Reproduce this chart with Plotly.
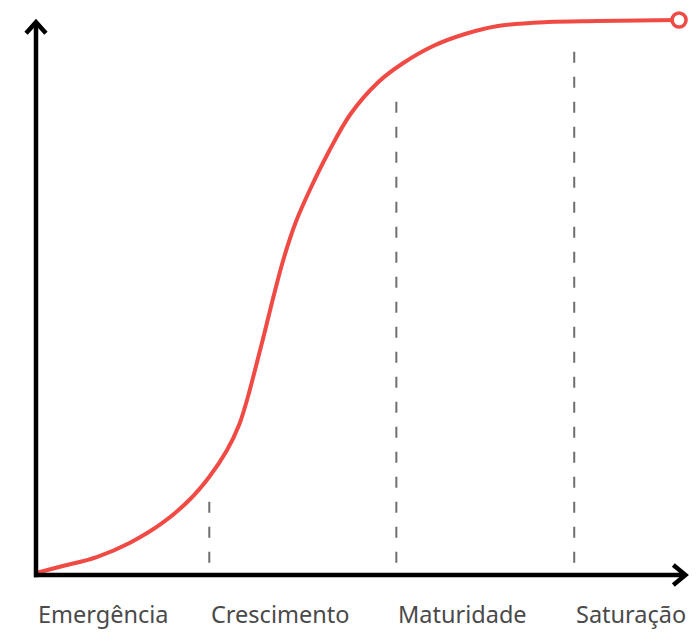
import plotly.graph_objects as go

# S-curve (time in arbitrary units 0..10, adoption 0..100)
curve_x = [0.0, 0.411, 0.928, 1.431, 1.933, 2.344, 2.648, 2.922, 3.105, 3.227, 3.349, 3.486, 3.638,
           3.790, 3.973, 4.201, 4.475, 4.810, 5.236, 5.616, 6.073, 6.560, 7.062, 7.823, 8.584, 9.833]
curve_y = [0.36, 1.62, 3.24, 5.77, 9.37, 13.51, 17.66, 22.52, 27.03, 31.53, 36.94, 43.24, 50.45,
           57.12, 63.60, 69.73, 76.22, 83.06, 88.83, 92.25, 95.32, 97.48, 98.92, 99.64, 99.82, 100.0]

phase_labels = ["Emergência", "Crescimento", "Maturidade", "Saturação"]
phase_starts = [0.0, 2.65, 5.51, 8.23]
divider_x = [2.65, 5.51, 8.23]
divider_top = [13.2, 87.4, 96.4]
divider_bottom = 2.2

X_MAX = 9.93
Y_MAX = 99.6

RED = "#F04A45"

fig = go.Figure()
fig.add_trace(go.Scatter(
    x=curve_x, y=curve_y, mode="lines",
    line=dict(color=RED, width=4, shape="spline", smoothing=1.0),
    hoverinfo="skip", cliponaxis=False, showlegend=False))
fig.add_trace(go.Scatter(
    x=[curve_x[-1]], y=[curve_y[-1]], mode="markers",
    marker=dict(size=14, color="white", line=dict(color=RED, width=3.5)),
    hoverinfo="skip", cliponaxis=False, showlegend=False))

shapes = []
for dx, top in zip(divider_x, divider_top):
    shapes.append(dict(type="line", xref="x", yref="y", x0=dx, x1=dx,
                       y0=divider_bottom, y1=top,
                       line=dict(color="#6e6e6e", width=2, dash="11px,14px"), layer="below"))
# axes
shapes.append(dict(type="line", xref="x", yref="y", x0=0, x1=0, y0=-0.4, y1=Y_MAX,
                   line=dict(color="black", width=4.5)))
shapes.append(dict(type="line", xref="x", yref="y", x0=-0.03, x1=X_MAX, y0=0, y1=0,
                   line=dict(color="black", width=4.5)))
# arrowheads
yx_dx, yx_dy = 0.152, 1.98     # y-axis arrow arms
xx_dx, xx_dy = 0.185, 1.8      # x-axis arrow arms
shapes.append(dict(type="path", xref="x", yref="y",
                   path=f"M {-yx_dx},{Y_MAX-yx_dy} L 0,{Y_MAX} L {yx_dx},{Y_MAX-yx_dy}",
                   line=dict(color="black", width=4.5)))
shapes.append(dict(type="path", xref="x", yref="y",
                   path=f"M {X_MAX-xx_dx},{xx_dy} L {X_MAX},0 L {X_MAX-xx_dx},{-xx_dy}",
                   line=dict(color="black", width=4.5)))

annotations = []
for lab, xs in zip(phase_labels, phase_starts):
    annotations.append(dict(x=xs, y=-7.0, xref="x", yref="y", text=lab, showarrow=False,
                            xanchor="left", yanchor="middle",
                            font=dict(family="Noto Sans", size=23.5, color="#4a4a4a")))

# page body has an 8px default margin: keep the figure inside the viewport (no scrollbars)
fig.update_layout(
    width=681, height=622,
    margin=dict(l=0, r=0, t=0, b=0),
    paper_bgcolor="white", plot_bgcolor="white",
    xaxis=dict(visible=False, range=[-0.428, 9.985], fixedrange=True),
    yaxis=dict(visible=False, range=[-9.91, 102.16], fixedrange=True),
    shapes=shapes, annotations=annotations,
)

fig.write_html("out.html")
